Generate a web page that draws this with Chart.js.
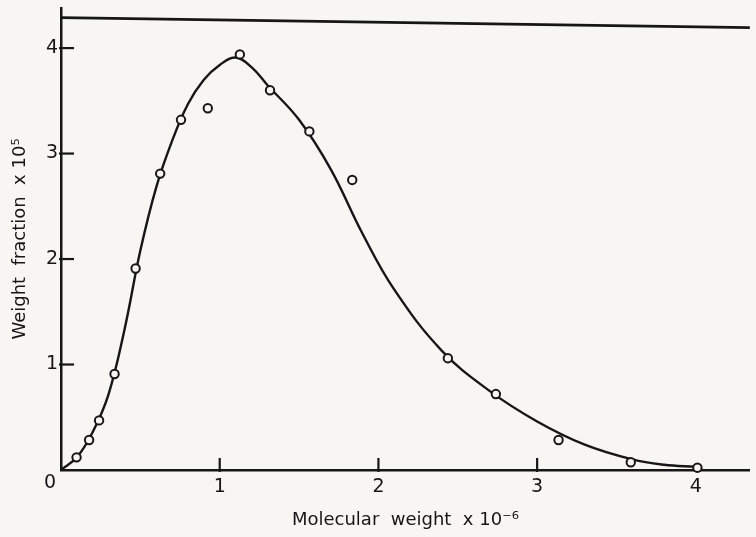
<!DOCTYPE html>
<html><head><meta charset="utf-8">
<script src="https://cdn.jsdelivr.net/npm/chart.js@4"></script>
<style>html,body{margin:0;padding:0;background:#f7f6f2;overflow:hidden}#wrap{width:756px;height:537px}</style>
</head><body><div id="wrap"><canvas id="c" width="756" height="537"></canvas></div>
<script>
// Measured data points (open circles): molecular weight x10^-6, weight fraction x10^5
const pointX = [0.098, 0.177, 0.24, 0.3375, 0.47, 0.625, 0.756, 0.925, 1.127, 1.317, 1.565, 1.835, 2.4375, 2.74, 3.135, 3.59, 4.01];
const pointY = [0.12, 0.284, 0.47, 0.91, 1.91, 2.81, 3.32, 3.43, 3.94, 3.60, 3.21, 2.75, 1.06, 0.72, 0.284, 0.073, 0.022];
// Fitted smooth curve
const curveX = [0, 0.1, 0.2, 0.3, 0.4, 0.5, 0.6, 0.7, 0.8, 0.9, 1.0, 1.1, 1.2, 1.3, 1.5, 1.7, 1.9, 2.1, 2.4, 2.7, 3.0, 3.3, 3.6, 3.8, 4.0];
const curveY = [0, 0.12, 0.36, 0.72, 1.33, 2.08, 2.68, 3.12, 3.47, 3.70, 3.84, 3.91, 3.82, 3.65, 3.32, 2.85, 2.24, 1.71, 1.13, 0.75, 0.46, 0.24, 0.10, 0.05, 0.03];
// Axes
const xTickValues = [0, 1, 2, 3, 4];
const yTickValues = [0, 1, 2, 3, 4];
const xTickMarks = [1, 2, 3];
const yTickMarks = [1, 2, 3, 4];
const xRange = [0, 4.34];
const yRange = [0, 4.38];
const frameTopValue = 4.26;
const xTitle = 'Molecular  weight  x 10\u207B\u2076';
const yTitle = 'Weight  fraction  x 10\u2075';
const originLabel = '0';

const INK = '#161616';
const PAPER = '#f7f6f2';
const FONT = {family: '"DejaVu Sans", sans-serif', size: 18};
const TICKFONT = {family: '"DejaVu Sans", sans-serif', size: 19};

const extras = {
  id: 'extras',
  beforeDraw(chart) {
    const c = chart.ctx;
    c.save(); c.fillStyle = PAPER; c.fillRect(0, 0, chart.width, chart.height); c.restore();
  },
  afterDraw(chart) {
    const c = chart.ctx, xs = chart.scales.x, ys = chart.scales.y, a = chart.chartArea;
    c.save();
    c.strokeStyle = INK; c.lineWidth = 2.2; c.lineCap = 'butt';
    xTickMarks.forEach(v => {
      const px = xs.getPixelForValue(v);
      c.beginPath(); c.moveTo(px, a.bottom + 2); c.lineTo(px, a.bottom - 12); c.stroke();
    });
    yTickMarks.forEach(v => {
      const py = ys.getPixelForValue(v);
      c.beginPath(); c.moveTo(a.left - 2, py); c.lineTo(a.left + 13, py); c.stroke();
    });
    // top frame line (slightly skewed, as scanned)
    const ty = ys.getPixelForValue(frameTopValue);
    c.lineWidth = 2.6;
    c.beginPath(); c.moveTo(a.left, ty - 3); c.lineTo(a.right, ty + 7); c.stroke();
    // origin label
    c.fillStyle = INK; c.font = `${TICKFONT.size}px ${TICKFONT.family}`;
    c.textAlign = 'center'; c.textBaseline = 'middle';
    c.fillText(originLabel, xs.getPixelForValue(0) - 11, ys.getPixelForValue(0) + 13);
    c.restore();
  }
};

new Chart(document.getElementById('c'), {
  data: {
    datasets: [
      {
        type: 'scatter',
        data: pointX.map((x, i) => ({x, y: pointY[i]})),
        pointRadius: 4.2, pointBorderWidth: 2,
        pointBackgroundColor: PAPER, pointBorderColor: INK,
        showLine: false, clip: false
      },
      {
        type: 'line',
        data: curveX.map((x, i) => ({x, y: curveY[i]})),
        borderColor: INK, borderWidth: 2.4, pointRadius: 0,
        tension: 0.4, fill: false, clip: false
      }
    ]
  },
  options: {
    responsive: false, animation: false, devicePixelRatio: 1,
    layout: {padding: {top: 8, right: 0, bottom: 0, left: 0}},
    plugins: {legend: {display: false}, tooltip: {enabled: false}},
    scales: {
      x: {
        type: 'linear', position: 'bottom', min: xRange[0], max: xRange[1],
        afterBuildTicks: s => { s.ticks = xTickValues.map(v => ({value: v})); },
        ticks: {callback: v => v === 0 ? '' : String(v), padding: 6, font: TICKFONT, color: INK, maxRotation: 0, autoSkip: false},
        grid: {display: false, drawTicks: false},
        border: {display: true, color: INK, width: 2.5},
        title: {display: true, text: xTitle, font: FONT, color: INK, padding: {top: 0, bottom: 6}},
        afterFit: s => { s.height = 67; s.paddingLeft = 0; s.paddingRight = 0; }
      },
      y: {
        type: 'linear', position: 'left', min: yRange[0], max: yRange[1],
        afterBuildTicks: s => { s.ticks = yTickValues.map(v => ({value: v})); },
        ticks: {callback: v => v === 0 ? '' : String(v), padding: 3, font: TICKFONT, color: INK, autoSkip: false},
        grid: {display: false, drawTicks: false},
        border: {display: true, color: INK, width: 2.5},
        title: {display: true, text: yTitle, font: FONT, color: INK, padding: {top: 10, bottom: 0}},
        afterFit: s => { s.width = 61; s.paddingTop = 0; s.paddingBottom = 0; }
      }
    }
  },
  plugins: [extras]
});
</script></body></html>
